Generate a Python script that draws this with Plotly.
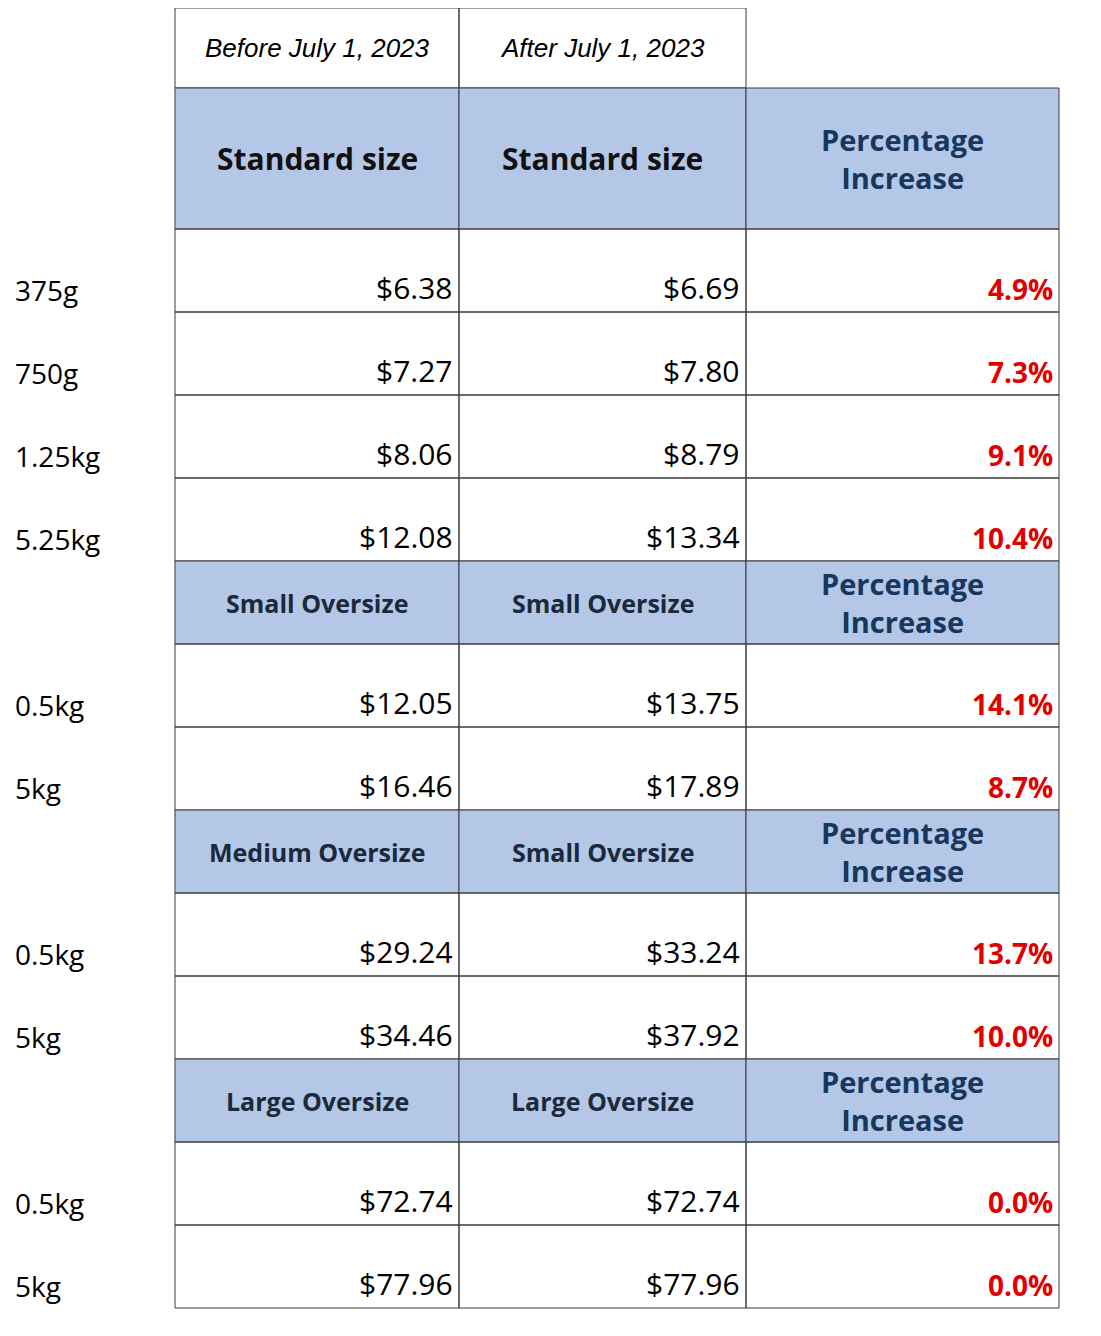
import plotly.graph_objects as go

before_header = "Before July 1, 2023"
after_header = "After July 1, 2023"

sections = [
    ("Standard size", "Standard size"),
    ("Small Oversize", "Small Oversize"),
    ("Medium Oversize", "Small Oversize"),
    ("Large Oversize", "Large Oversize"),
]
weights = [["375g", "750g", "1.25kg", "5.25kg"], ["0.5kg", "5kg"], ["0.5kg", "5kg"], ["0.5kg", "5kg"]]
before = [["$6.38", "$7.27", "$8.06", "$12.08"], ["$12.05", "$16.46"], ["$29.24", "$34.46"], ["$72.74", "$77.96"]]
after = [["$6.69", "$7.80", "$8.79", "$13.34"], ["$13.75", "$17.89"], ["$33.24", "$37.92"], ["$72.74", "$77.96"]]
pct = [["4.9%", "7.3%", "9.1%", "10.4%"], ["14.1%", "8.7%"], ["13.7%", "10.0%"], ["0.0%", "0.0%"]]

W, H = 1101, 1336
OFF = 8  # page body margin
cols = [175 - OFF, 459 - OFF, 746 - OFF, 1059 - OFF]
BLUE = "#b4c7e7"
LINE = "#3a3a3a"
NAVY = "#17375e"
FONT = "Open Sans, DejaVu Sans, sans-serif"

shapes, ann = [], []


def rect(x0, y0, x1, y1, fill=None):
    shapes.append(dict(type="rect", x0=x0, x1=x1, y0=y0, y1=y1, xref="x", yref="y",
                       line=dict(color=LINE, width=1),
                       fillcolor=fill or "rgba(0,0,0,0)", layer="below"))


def text(x, y, s, size, color="#000", bold=False, italic=False, xanchor="center",
         yanchor="middle", family=FONT):
    if bold:
        s = f"<b>{s}</b>"
    if italic:
        s = f"<i>{s}</i>"
    ann.append(dict(x=x, y=y, xref="x", yref="y", text=s, showarrow=False,
                    xanchor=xanchor, yanchor=yanchor,
                    font=dict(family=family, size=size, color=color)))


top = 8 - OFF
rect(cols[0], top, cols[1], top + 80)
rect(cols[1], top, cols[2], top + 80)
text((cols[0] + cols[1]) / 2, top + 40, before_header, 26, italic=True, family="Liberation Sans, Arial")
text((cols[1] + cols[2]) / 2, top + 40, after_header, 26, italic=True, family="Liberation Sans, Arial")

y = top + 80
row_h = 83
for si, (hb, ha) in enumerate(sections):
    hh = 141 if si == 0 else row_h
    for c in range(3):
        rect(cols[c], y, cols[c + 1], y + hh, BLUE)
    big = si == 0
    hc = "#111" if big else "#1a2a3a"
    text((cols[0] + cols[1]) / 2, y + hh / 2, hb, 30 if big else 25, color=hc, bold=True)
    text((cols[1] + cols[2]) / 2, y + hh / 2, ha, 30 if big else 25, color=hc, bold=True)
    text((cols[2] + cols[3]) / 2, y + hh / 2, "<b>Percentage<br>Increase</b>", 29, color=NAVY)
    y += hh
    for r in range(len(weights[si])):
        for c in range(3):
            rect(cols[c], y, cols[c + 1], y + row_h)
        yb = y + row_h - 2
        text(13 - OFF, yb - 20, weights[si][r], 28, xanchor="left")
        text(cols[1] - 4, yb, before[si][r], 30, xanchor="right", yanchor="bottom")
        text(cols[2] - 4, yb, after[si][r], 30, xanchor="right", yanchor="bottom")
        text(cols[3] - 4, yb, pct[si][r], 28, color="#e00000", bold=True, xanchor="right", yanchor="bottom")
        y += row_h

fig = go.Figure()
fig.update_layout(
    width=W, height=H, margin=dict(l=0, r=0, t=0, b=0),
    paper_bgcolor="white", plot_bgcolor="white",
    xaxis=dict(range=[0, W], visible=False, fixedrange=True),
    yaxis=dict(range=[H, 0], visible=False, fixedrange=True),
    shapes=shapes, annotations=ann, showlegend=False,
)
fig.write_html("out.html")
